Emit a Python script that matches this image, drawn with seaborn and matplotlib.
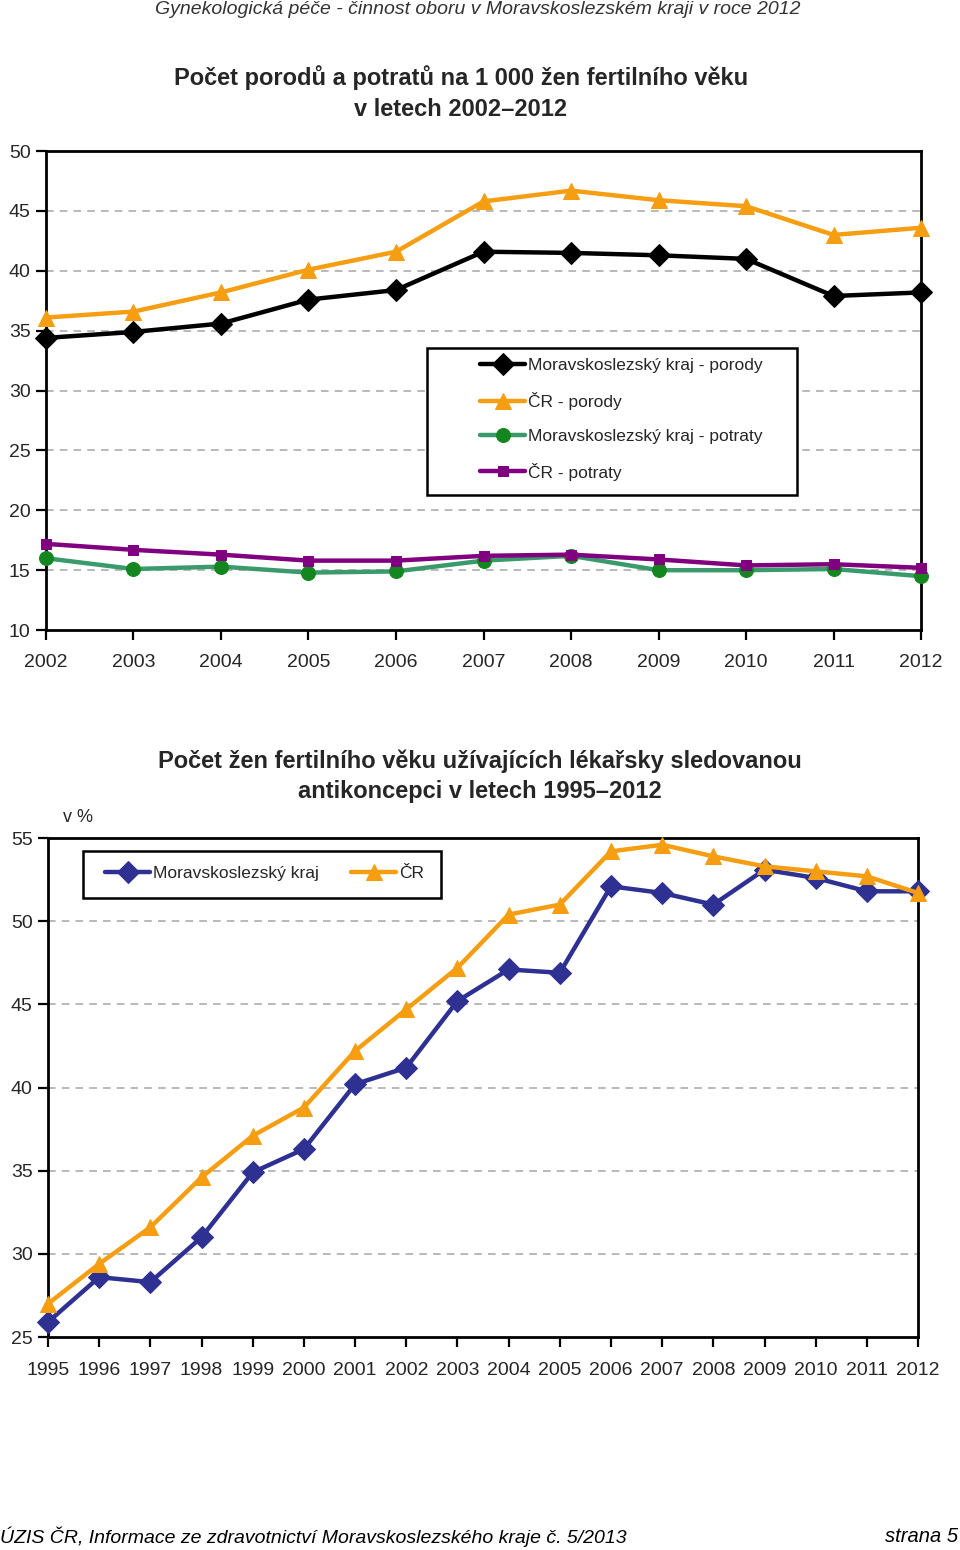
import matplotlib
matplotlib.use("Agg")
import matplotlib.pyplot as plt
from matplotlib.patches import Rectangle
import seaborn as sns
import pandas as pd

sns.set_theme(style="white")
plt.rcParams['font.family'] = ['Liberation Sans Narrow', 'Liberation Sans', 'DejaVu Sans']

# ---- data chart 1 ----
years1 = [2002, 2003, 2004, 2005, 2006, 2007, 2008, 2009, 2010, 2011, 2012]
ms_porody = [34.4, 34.9, 35.6, 37.6, 38.4, 41.6, 41.5, 41.3, 41.0, 37.9, 38.2]
cr_porody = [36.1, 36.6, 38.2, 40.1, 41.6, 45.8, 46.7, 45.9, 45.4, 43.0, 43.6]
ms_potraty = [16.0, 15.1, 15.3, 14.8, 14.9, 15.8, 16.2, 15.0, 15.0, 15.1, 14.5]
cr_potraty = [17.2, 16.7, 16.3, 15.8, 15.8, 16.2, 16.3, 15.9, 15.4, 15.5, 15.2]
labels1 = ["Moravskoslezský kraj - porody", "ČR - porody",
           "Moravskoslezský kraj - potraty", "ČR - potraty"]

# ---- data chart 2 ----
years2 = list(range(1995, 2013))
ms_anti = [25.9, 28.6, 28.3, 31.0, 34.9, 36.3, 40.2, 41.2, 45.2, 47.1, 46.9,
           52.1, 51.7, 51.0, 53.1, 52.6, 51.8, 51.8]
cr_anti = [27.0, 29.4, 31.6, 34.6, 37.1, 38.8, 42.2, 44.7, 47.2, 50.4, 51.0,
           54.2, 54.6, 53.9, 53.3, 53.0, 52.7, 51.7]
labels2 = ["Moravskoslezský kraj", "ČR"]

ORANGE = "#F59E12"
LEGFS = 12.5
fig = plt.figure(figsize=(9.6, 15.5), dpi=100)

def style_axes(ax):
    for s in ax.spines.values():
        s.set_visible(True)
        s.set_color("black")
        s.set_linewidth(2)
    ax.tick_params(axis="both", which="major", direction="out", length=7, width=1.6,
                   color="black", labelsize=14, bottom=True, left=True)
    ax.tick_params(axis="x", pad=10)
    ax.tick_params(axis="y", pad=4)
    ax.set_xlabel("")
    ax.set_ylabel("")

def frame_rect(x0, y0, x1, y1):
    # pixel box -> figure fraction rectangle
    W, H = 960, 1550
    fig.patches.append(Rectangle((x0 / W, 1 - y1 / H), (x1 - x0) / W, (y1 - y0) / H,
                                 transform=fig.transFigure, fill=True, facecolor="white",
                                 edgecolor="black", linewidth=1.8, zorder=5))

# ---------------- chart 1 ----------------
ax1 = fig.add_axes([0.0479, 0.5935, 0.9115, 0.3090])
series1 = [
    (ms_porody, "black", "black", "D", 11),
    (cr_porody, ORANGE, ORANGE, "^", 12),
    (ms_potraty, "#3A9A6B", "#13861F", "o", 10),
    (cr_potraty, "#800080", "#800080", "s", 7),
]
for lab, (vals, lc, mc, mk, ms) in zip(labels1, series1):
    df = pd.DataFrame({"rok": years1, "hodnota": vals})
    sns.lineplot(data=df, x="rok", y="hodnota", ax=ax1, color=lc, linewidth=3.2,
                 marker=mk, markersize=ms, markerfacecolor=mc, markeredgecolor=mc,
                 label=lab, clip_on=False, zorder=3)
ax1.set_xlim(2002, 2012)
ax1.set_ylim(10, 50)
ax1.set_xticks(years1)
ax1.set_yticks(range(10, 51, 5))
for v in range(15, 50, 5):
    ax1.axhline(v, color="#A6A6A6", linestyle=(0, (5, 4)), linewidth=1.1, zorder=1)
style_axes(ax1)
ax1.get_legend().remove()
frame_rect(427, 348, 797, 495)
h1, l1 = ax1.get_legend_handles_labels()
leg1 = fig.legend(h1, l1, loc="upper left", bbox_to_anchor=(480 / 960, 1 - 358 / 1550),
                  frameon=False, fontsize=LEGFS, handlelength=2.6, labelspacing=1.08,
                  borderpad=0, handletextpad=0.17, borderaxespad=0)
leg1.set_zorder(6)

fig.text(0.48, 1 - 93 / 1550, "Počet porodů a potratů na 1 000 žen fertilního věku\nv letech 2002–2012",
         ha="center", va="center", fontsize=17, fontweight="bold",
         family=["Liberation Sans", "DejaVu Sans"], linespacing=1.4)

# ---------------- chart 2 ----------------
ax2 = fig.add_axes([0.05, 0.1374, 0.9063, 0.3219])
series2 = [
    (ms_anti, "#2E3192", "D", 11),
    (cr_anti, ORANGE, "^", 12),
]
for lab, (vals, c, mk, ms) in zip(labels2, series2):
    df = pd.DataFrame({"rok": years2, "hodnota": vals})
    sns.lineplot(data=df, x="rok", y="hodnota", ax=ax2, color=c, linewidth=3.2,
                 marker=mk, markersize=ms, markerfacecolor=c, markeredgecolor=c,
                 label=lab, clip_on=False, zorder=3)
ax2.set_xlim(1995, 2012)
ax2.set_ylim(25, 55)
ax2.set_xticks(years2)
ax2.set_yticks(range(25, 56, 5))
for v in range(30, 55, 5):
    ax2.axhline(v, color="#A6A6A6", linestyle=(0, (5, 4)), linewidth=1.1, zorder=1)
style_axes(ax2)
ax2.tick_params(axis="x", labelsize=14, pad=11)
ax2.get_legend().remove()
frame_rect(83, 851, 441, 898)
h2, l2 = ax2.get_legend_handles_labels()
leg2 = fig.legend(h2, l2, loc="center left", bbox_to_anchor=(105 / 960, 1 - 873 / 1550),
                  ncol=2, frameon=False, fontsize=LEGFS, handlelength=2.6,
                  columnspacing=1.85, borderpad=0, handletextpad=0.17, borderaxespad=0)
leg2.set_zorder(6)

fig.text(0.5, 1 - 776 / 1550, "Počet žen fertilního věku užívajících lékařsky sledovanou\nantikoncepci v letech 1995–2012",
         ha="center", va="center", fontsize=17, fontweight="bold",
         family=["Liberation Sans", "DejaVu Sans"], linespacing=1.4)
fig.text(0.081, 1 - 818 / 1550, "v %", ha="center", va="center", fontsize=13)

# ---------------- header / footer ----------------
fig.text(0.498, 1 - 10 / 1550, "Gynekologická péče - činnost oboru v Moravskoslezském kraji v roce 2012",
         ha="center", va="center", fontsize=14, style="italic", color="#333333",
         family=["Liberation Sans", "DejaVu Sans"])
fig.text(0.0, 1 - 1537 / 1550, "ÚZIS ČR, Informace ze zdravotnictví Moravskoslezského kraje č. 5/2013",
         ha="left", va="center", fontsize=14, style="italic", color="black",
         family=["Liberation Sans", "DejaVu Sans"])
fig.text(0.998, 1 - 1537 / 1550, "strana 5", ha="right", va="center", fontsize=14.5, style="italic",
         color="black", family=["Liberation Sans", "DejaVu Sans"])

fig.savefig("out.png", dpi=100, facecolor="white")
